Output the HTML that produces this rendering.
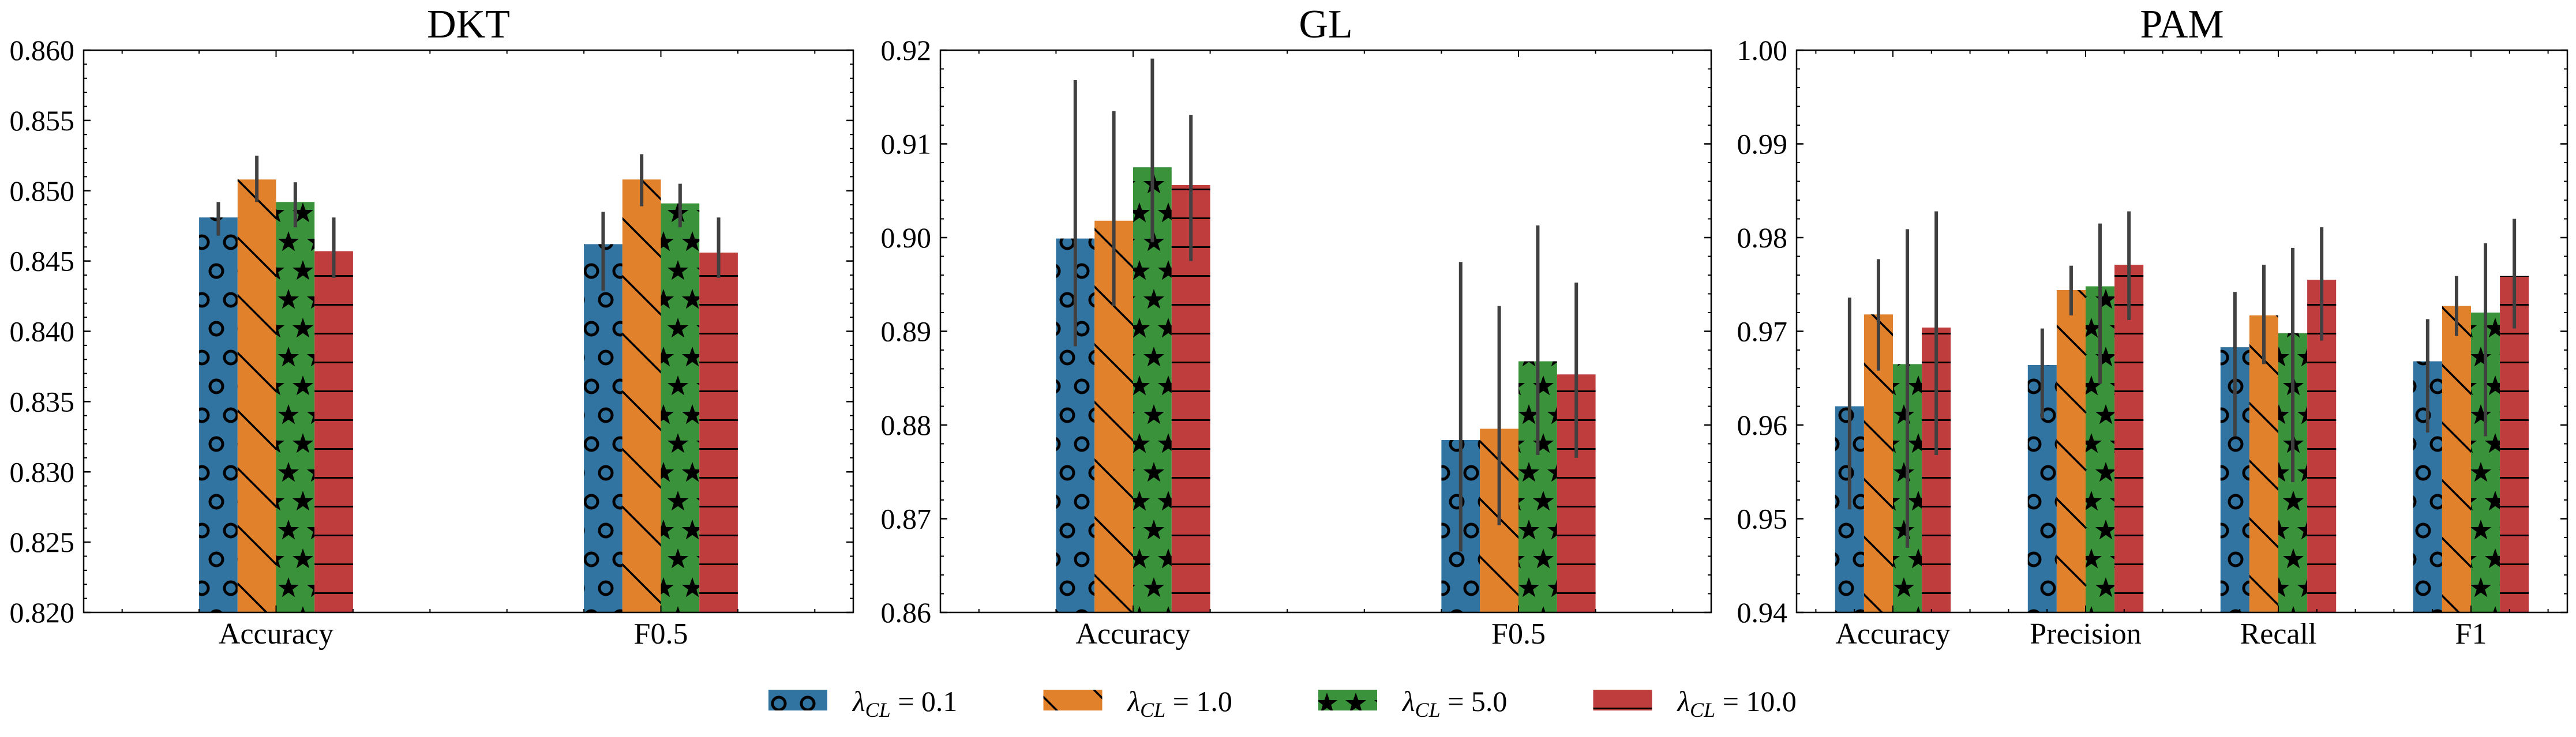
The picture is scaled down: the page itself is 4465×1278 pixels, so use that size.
<!DOCTYPE html>
<html><head><meta charset="utf-8"><style>
html,body{margin:0;padding:0;background:#fff;}
svg{display:block;font-family:"Liberation Serif",serif;}
</style></head><body>
<svg id="fig" xmlns="http://www.w3.org/2000/svg" width="4465" height="1278" viewBox="0 0 4465 1278">
<defs>
<pattern id="hatch-o" patternUnits="userSpaceOnUse" width="50" height="100" x="0" y="20">
<circle cx="0" cy="0" r="11" fill="none" stroke="#000" stroke-width="5"/>
<circle cx="50" cy="0" r="11" fill="none" stroke="#000" stroke-width="5"/>
<circle cx="0" cy="100" r="11" fill="none" stroke="#000" stroke-width="5"/>
<circle cx="50" cy="100" r="11" fill="none" stroke="#000" stroke-width="5"/>
<circle cx="25" cy="50" r="11" fill="none" stroke="#000" stroke-width="5"/>
</pattern>
<pattern id="hatch-bs" patternUnits="userSpaceOnUse" width="100" height="100" x="0" y="0">
<line x1="-10" y1="-10" x2="110" y2="110" stroke="#000" stroke-width="3.5"/>
<line x1="-10" y1="90" x2="10" y2="110" stroke="#000" stroke-width="3.5"/>
<line x1="90" y1="-10" x2="110" y2="10" stroke="#000" stroke-width="3.5"/>
</pattern>
<pattern id="hatch-star" patternUnits="userSpaceOnUse" width="50" height="100" x="0" y="20">
<g id="st"><polygon points="0,-19 4.4,-6.1 18.1,-5.9 7.2,2.3 11.2,15.4 0,7.6 -11.2,15.4 -7.2,2.3 -18.1,-5.9 -4.4,-6.1" fill="#000"/></g>
<use href="#st" x="50" y="0"/><use href="#st" x="0" y="100"/><use href="#st" x="50" y="100"/><use href="#st" x="25" y="50"/>
</pattern>
<pattern id="hatch-h" patternUnits="userSpaceOnUse" width="100" height="50" x="0" y="27">
<line x1="0" y1="0" x2="100" y2="0" stroke="#000" stroke-width="6"/>
</pattern>
</defs>
<g id="panels"></g>
<g id="legend"></g>
</svg>
<script>
// ---- data ----
const seriesLabels = ["0.1", "1.0", "5.0", "10.0"];
const dktCats = ["Accuracy", "F0.5"];
const dktS1 = [0.8481, 0.8462];
const dktS2 = [0.8508, 0.8508];
const dktS3 = [0.8492, 0.8491];
const dktS4 = [0.8457, 0.8456];
const dktLo1 = [0.8468, 0.8429];
const dktHi1 = [0.8492, 0.8485];
const dktLo2 = [0.8492, 0.8489];
const dktHi2 = [0.8525, 0.8526];
const dktLo3 = [0.8474, 0.8474];
const dktHi3 = [0.8506, 0.8505];
const dktLo4 = [0.8438, 0.8438];
const dktHi4 = [0.8481, 0.8481];
const dktTicks = ["0.820","0.825","0.830","0.835","0.840","0.845","0.850","0.855","0.860"];

const glCats = ["Accuracy", "F0.5"];
const glS1 = [0.8999, 0.8784];
const glS2 = [0.9018, 0.8796];
const glS3 = [0.9075, 0.8868];
const glS4 = [0.9056, 0.8854];
const glLo1 = [0.8884, 0.8665];
const glHi1 = [0.9168, 0.8974];
const glLo2 = [0.8927, 0.8693];
const glHi2 = [0.9135, 0.8927];
const glLo3 = [0.8995, 0.8768];
const glHi3 = [0.9191, 0.9013];
const glLo4 = [0.8975, 0.8765];
const glHi4 = [0.9131, 0.8952];
const glTicks = ["0.86","0.87","0.88","0.89","0.90","0.91","0.92"];

const pamCats = ["Accuracy", "Precision", "Recall", "F1"];
const pamS1 = [0.9620, 0.9664, 0.9683, 0.9668];
const pamS2 = [0.9718, 0.9744, 0.9717, 0.9727];
const pamS3 = [0.9665, 0.9748, 0.9698, 0.9720];
const pamS4 = [0.9704, 0.9771, 0.9755, 0.9759];
const pamLo1 = [0.9510, 0.9607, 0.9588, 0.9592];
const pamHi1 = [0.9736, 0.9703, 0.9742, 0.9713];
const pamLo2 = [0.9658, 0.9717, 0.9665, 0.9695];
const pamHi2 = [0.9777, 0.9770, 0.9771, 0.9759];
const pamLo3 = [0.9469, 0.9644, 0.9539, 0.9588];
const pamHi3 = [0.9809, 0.9815, 0.9789, 0.9794];
const pamLo4 = [0.9568, 0.9712, 0.9690, 0.9703];
const pamHi4 = [0.9828, 0.9828, 0.9811, 0.9820];
const pamTicks = ["0.94","0.95","0.96","0.97","0.98","0.99","1.00"];

const colors = ["#3274A1", "#E1812C", "#3A923A", "#C03D3E"];
const hatches = ["url(#hatch-o)", "url(#hatch-bs)", "url(#hatch-star)", "url(#hatch-h)"];
const NS = "http://www.w3.org/2000/svg";

function mk(tag, attrs, parent) {
  const e = document.createElementNS(NS, tag);
  for (const k in attrs) e.setAttribute(k, attrs[k]);
  if (parent) parent.appendChild(e);
  return e;
}

function drawPanel(p) {
  const root = document.getElementById("panels");
  const g = mk("g", {}, root);
  
  
  const ymin = parseFloat(p.ticks[0]), ymax = parseFloat(p.ticks[p.ticks.length - 1]);
  const n = p.cats.length;
  const xlo = -0.5, xhi = n - 0.5;
  const X = v => p.x0 + (v - xlo) / (xhi - xlo) * (p.x1 - p.x0);
  const Y = v => p.y1 - (v - ymin) / (ymax - ymin) * (p.y1 - p.y0);
  const series = [p.s1, p.s2, p.s3, p.s4];
  const los = [p.lo1, p.lo2, p.lo3, p.lo4];
  const his = [p.hi1, p.hi2, p.hi3, p.hi4];
  for (let si = 0; si < 4; si++) {
    for (let ci = 0; ci < n; ci++) {
      const c = ci + (si - 1.5) * p.bw;
      const xl = X(c - p.bw / 2), xr = X(c + p.bw / 2);
      const yt = Y(series[si][ci]);
      const r = mk("rect", {x: xl, y: yt, width: xr - xl, height: p.y1 - yt, fill: colors[si]}, g);
      
      
      mk("rect", {x: xl, y: yt, width: xr - xl, height: p.y1 - yt, fill: hatches[si]}, g);
    }
  }
  for (let si = 0; si < 4; si++) {
    for (let ci = 0; ci < n; ci++) {
      const c = ci + (si - 1.5) * p.bw;
      const l = mk("line", {x1: X(c), x2: X(c), y1: Y(Math.min(ymax, his[si][ci])), y2: Y(Math.max(ymin, los[si][ci])), stroke: "#404040", "stroke-width": 6}, g);
      
      
    }
  }
  const fr = mk("rect", {x: p.x0, y: p.y0, width: p.x1 - p.x0, height: p.y1 - p.y0, fill: "none", stroke: "#000", "stroke-width": 2.5}, g);
  
  
  const step = (ymax - ymin) / (p.ticks.length - 1);
  for (let i = 0; i < p.ticks.length; i++) {
    const yy = Y(ymin + i * step);
    mk("line", {x1: p.x0, x2: p.x0 + 12, y1: yy, y2: yy, stroke: "#000", "stroke-width": 2.5}, g);
    mk("line", {x1: p.x1, x2: p.x1 - 12, y1: yy, y2: yy, stroke: "#000", "stroke-width": 2.5}, g);
    const t = mk("text", {x: p.x0 - 16, y: yy + 17, "text-anchor": "end", "font-size": 50}, g);
    t.textContent = p.ticks[i];
    
    
    if (i < p.ticks.length - 1) {
      for (let k = 1; k < p.minorN; k++) {
        const ym = Y(ymin + i * step + k * step / p.minorN);
        mk("line", {x1: p.x0, x2: p.x0 + 6, y1: ym, y2: ym, stroke: "#000", "stroke-width": 2}, g);
        mk("line", {x1: p.x1, x2: p.x1 - 6, y1: ym, y2: ym, stroke: "#000", "stroke-width": 2}, g);
      }
    }
  }
  for (let k = -2; k <= 5 * n - 3; k++) {
    const v = k * 0.2;
    if (v <= xlo || v >= xhi) continue;
    const xx = X(v);
    const major = Math.abs(v - Math.round(v)) < 1e-6;
    const len = major ? 12 : 6;
    mk("line", {x1: xx, x2: xx, y1: p.y1, y2: p.y1 - len, stroke: "#000", "stroke-width": 2}, g);
    mk("line", {x1: xx, x2: xx, y1: p.y0, y2: p.y0 + len, stroke: "#000", "stroke-width": 2}, g);
  }
  for (let ci = 0; ci < n; ci++) {
    const t = mk("text", {x: X(ci), y: 1116, "text-anchor": "middle", "font-size": 52}, g);
    t.textContent = p.cats[ci];
    
    
  }
  const tt = mk("text", {x: (p.x0 + p.x1) / 2, y: 65, "text-anchor": "middle", "font-size": 70}, g);
  tt.textContent = p.title;
  
  
}

drawPanel({name: "dkt", title: "DKT", x0: 145, x1: 1479, y0: 87, y1: 1062, cats: dktCats, bw: 0.1, minorN: 5,
  s1: dktS1, s2: dktS2, s3: dktS3, s4: dktS4,
  lo1: dktLo1, hi1: dktHi1, lo2: dktLo2, hi2: dktHi2, lo3: dktLo3, hi3: dktHi3, lo4: dktLo4, hi4: dktHi4, ticks: dktTicks});
drawPanel({name: "gl", title: "GL", x0: 1630, x1: 2966, y0: 87, y1: 1062, cats: glCats, bw: 0.1, minorN: 5,
  s1: glS1, s2: glS2, s3: glS3, s4: glS4,
  lo1: glLo1, hi1: glHi1, lo2: glLo2, hi2: glHi2, lo3: glLo3, hi3: glHi3, lo4: glLo4, hi4: glHi4, ticks: glTicks});
drawPanel({name: "pam", title: "PAM", x0: 3114, x1: 4450, y0: 87, y1: 1062, cats: pamCats, bw: 0.15, minorN: 5,
  s1: pamS1, s2: pamS2, s3: pamS3, s4: pamS4,
  lo1: pamLo1, hi1: pamHi1, lo2: pamLo2, hi2: pamHi2, lo3: pamLo3, hi3: pamHi3, lo4: pamLo4, hi4: pamHi4, ticks: pamTicks});

const lg = document.getElementById("legend");
for (let i = 0; i < 4; i++) {
  const x = 1332 + i * 476.5;
  const entry = mk("g", {}, lg);
  
  
  mk("rect", {x: x, y: 1196, width: 102, height: 36, fill: colors[i]}, entry);
  mk("rect", {x: x, y: 1196, width: 102, height: 36, fill: hatches[i]}, entry);
  const t = mk("text", {x: x + 146, y: 1233, "font-size": 50}, entry);
  const l1 = mk("tspan", {"font-style": "italic"}, t); l1.textContent = "λ";
  const l2 = mk("tspan", {"font-style": "italic", "font-size": 36, dy: 10}, t); l2.textContent = "CL";
  const l3 = mk("tspan", {dy: -10}, t); l3.textContent = " = " + seriesLabels[i];
}
</script>
</body></html>
